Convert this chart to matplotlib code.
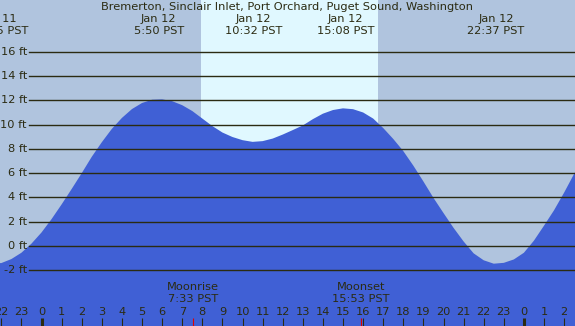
import matplotlib
matplotlib.use('Agg')
import matplotlib.pyplot as plt
import numpy as np

# tide prediction, heights in ft every half hour (hours from Jan 12 00:00 PST)
hours = np.arange(-2.5, 27.5, 0.5)
heights = [
    -1.40, -1.40, -1.07, -0.55, 0.20,                                 # -2.5 .. -0.5
    1.12, 2.22, 3.43, 4.70, 6.00, 7.35, 8.55, 9.65, 10.55, 11.28,      # 0 .. 4.5
    11.78, 12.05, 12.08, 11.93, 11.60, 11.12, 10.50, 9.88, 9.35, 8.98,  # 5 .. 9.5
    8.72, 8.58, 8.64, 8.85, 9.18, 9.55, 9.93, 10.45, 10.90, 11.20,     # 10 .. 14.5
    11.34, 11.27, 11.00, 10.50, 9.72, 8.82, 7.82, 6.62, 5.32, 3.97,    # 15 .. 19.5
    2.72, 1.50, 0.38, -0.60, -1.17, -1.45, -1.38, -1.10, -0.55, 0.45,  # 20 .. 24.5
    1.68, 2.95, 4.40, 5.95, 7.50,                                      # 25 .. 27
]

title = 'Bremerton, Sinclair Inlet, Port Orchard, Puget Sound, Washington'

# high / low tide events
ext_hours = [-2.083, 5.833, 10.533, 15.133, 22.617]
ext_dates = ['Jan 11', 'Jan 12', 'Jan 12', 'Jan 12', 'Jan 12']
ext_times = ['21:55 PST', '5:50 PST', '10:32 PST', '15:08 PST', '22:37 PST']

# moon events
moon_hours = [7.55, 15.883]
moon_names = ['Moonrise', 'Moonset']
moon_times = ['7:33 PST', '15:53 PST']

# daylight
sunrise = 7.93
sunset = 16.76

ft_levels = [-2, 0, 2, 4, 6, 8, 10, 12, 14, 16]
tick_hours = list(range(-2, 27))
tick_labels = [str(h % 24) for h in tick_hours]

W, H = 575, 326
FS = 8.2
txt_col = '#2b2b12'
bg_col = '#b0c4de'
day_col = '#e0f8ff'
water_col = '#4060d5'

fig = plt.figure(figsize=(W / 100, H / 100), dpi=100)
ax = fig.add_axes([0, 0, 1, 1])
ax.set_axis_off()
ax.set_xlim(-2.065, 26.542)
ax.set_ylim(-6.58, 20.26)
fig.patch.set_facecolor(bg_col)
ax.set_facecolor(bg_col)


def ypx(p):
    # pixel row from top -> axes fraction
    return 1 - p / H


xt = ax.get_xaxis_transform()

ax.axvspan(sunrise, sunset, color=day_col, zorder=0, lw=0)
ax.fill_between(hours, heights, -10, color=water_col, lw=0, zorder=1)

for lv in ft_levels:
    ax.axhline(lv, xmin=29 / W, xmax=1, color=txt_col, lw=1.0, zorder=2)
    ax.text(27 / W, lv, '%d ft' % lv, transform=ax.get_yaxis_transform(),
            ha='right', va='center', fontsize=FS, color=txt_col)

ax.text(0.5 * (97 + 477) / W, ypx(7), title, transform=ax.transAxes,
        ha='center', va='center', fontsize=FS, color=txt_col)

for h, d, t in zip(ext_hours, ext_dates, ext_times):
    ax.text(h, ypx(19.5), d, transform=xt, ha='center', va='center', fontsize=FS, color=txt_col)
    ax.text(h, ypx(31), t, transform=xt, ha='center', va='center', fontsize=FS, color=txt_col)

for h, n, t in zip(moon_hours, moon_names, moon_times):
    ax.text(h, ypx(287), n, transform=xt, ha='center', va='center', fontsize=FS, color=txt_col)
    ax.text(h, ypx(299.5), t, transform=xt, ha='center', va='center', fontsize=FS, color=txt_col)
    ax.vlines(h, 0, ypx(318), transform=xt, color='#e00000', lw=0.8, zorder=3)

for h, lab in zip(tick_hours, tick_labels):
    lw = 2.2 if h % 24 == 0 else 0.8
    ax.vlines(h, 0, ypx(318), transform=xt, color=txt_col, lw=lw, zorder=3)
    ax.text(h, ypx(312), lab, transform=xt, ha='center', va='center', fontsize=FS, color=txt_col)

fig.savefig('out.png', dpi=100, facecolor=bg_col)
